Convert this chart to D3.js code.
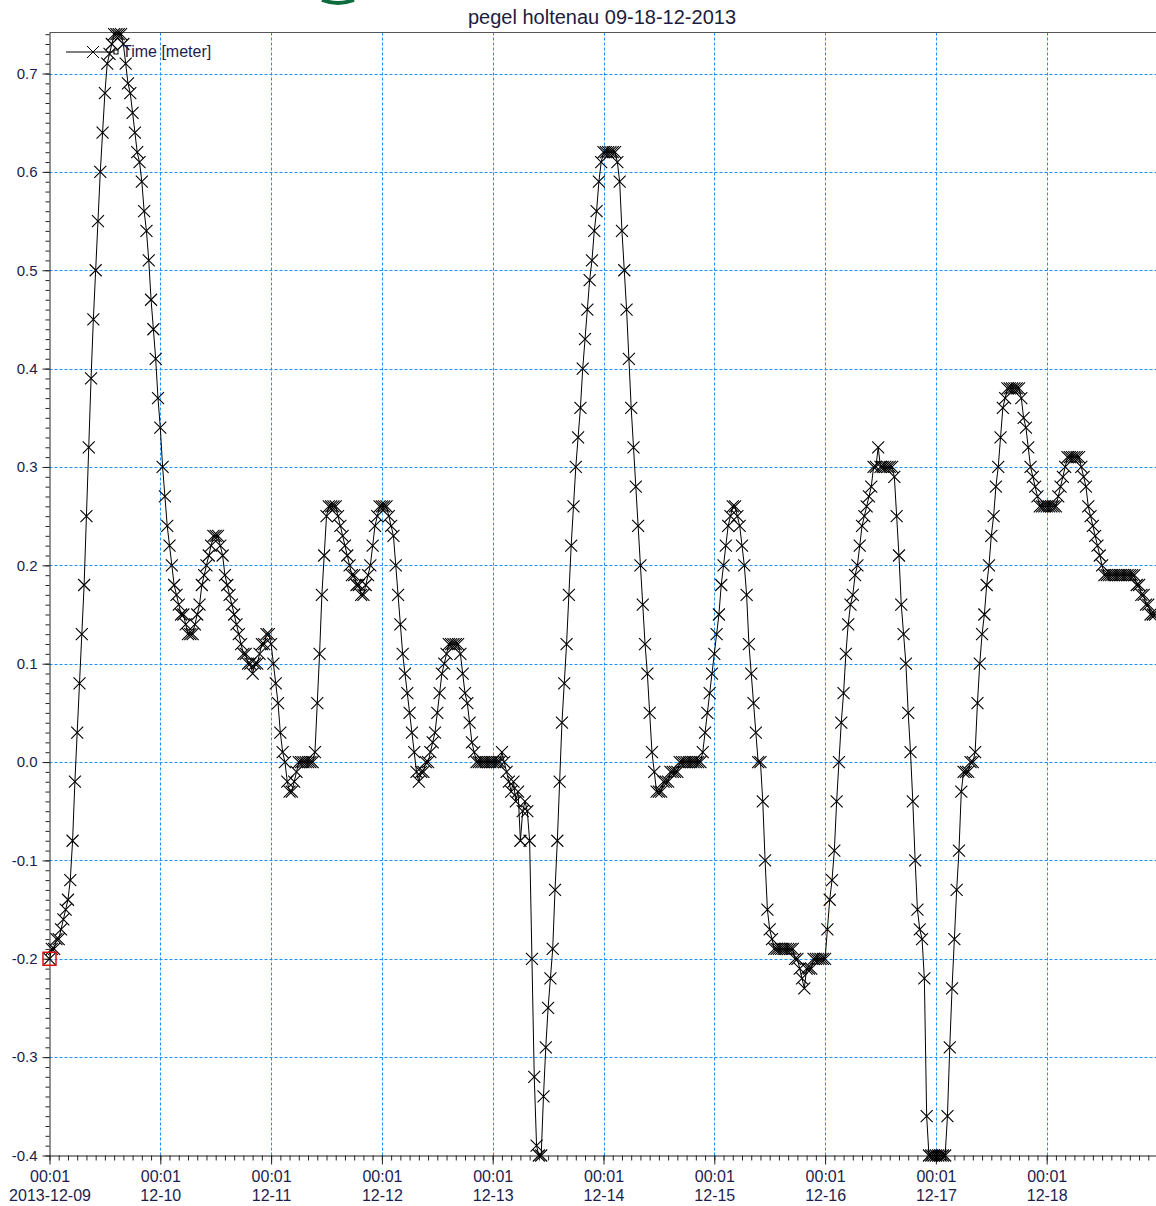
<!DOCTYPE html>
<html>
<head>
<meta charset="utf-8">
<script src="https://cdn.jsdelivr.net/npm/d3@7"></script>
<style>
  body { margin: 0; background: #fff; }
  svg { display: block; font-family: "Liberation Sans", Arial, sans-serif; }
</style>
</head>
<body>
<svg id="chart" width="1156" height="1206"></svg>
<script>
// water level, one value every 30 minutes, starting 2013-12-09 00:01
const startTime = new Date(2013, 11, 9, 0, 1);
const stepMinutes = 30;

const day09 = [-0.20,-0.19,-0.19,-0.18,-0.18,-0.17,-0.16,-0.15,-0.14,-0.12,
  -0.08,-0.02,0.03,0.08,0.13,0.18,0.25,0.32,0.39,0.45,
  0.50,0.55,0.60,0.64,0.68,0.71,0.72,0.73,0.74,0.74,
  0.74,0.74,0.73,0.71,0.69,0.68,0.66,0.64,0.62,0.61,
  0.59,0.56,0.54,0.51,0.47,0.44,0.41,0.37];
const day10 = [0.34,0.30,0.27,0.24,0.22,0.20,0.18,0.17,0.16,0.15,
  0.15,0.14,0.13,0.13,0.13,0.14,0.15,0.16,0.18,0.19,
  0.20,0.21,0.22,0.23,0.23,0.23,0.22,0.21,0.19,0.18,
  0.17,0.16,0.15,0.14,0.13,0.12,0.11,0.11,0.10,0.10,
  0.09,0.10,0.10,0.11,0.12,0.12,0.13,0.13];
const day11 = [0.12,0.10,0.08,0.06,0.03,0.01,0.00,-0.02,-0.03,-0.03,
  -0.02,-0.01,0.00,0.00,0.00,0.00,0.00,0.00,0.00,0.01,
  0.06,0.11,0.17,0.21,0.25,0.26,0.26,0.26,0.26,0.25,
  0.24,0.23,0.22,0.21,0.20,0.19,0.19,0.18,0.18,0.17,
  0.17,0.18,0.19,0.20,0.22,0.24,0.25,0.26];
const day12 = [0.26,0.26,0.26,0.25,0.24,0.23,0.20,0.17,0.14,0.11,
  0.09,0.07,0.05,0.03,0.01,-0.01,-0.02,-0.01,-0.01,0.00,
  0.00,0.01,0.02,0.03,0.05,0.07,0.09,0.10,0.11,0.12,
  0.12,0.12,0.12,0.12,0.11,0.09,0.07,0.06,0.04,0.02,
  0.01,0.00,0.00,0.00,0.00,0.00,0.00,0.00];
const day13 = [0.00,0.00,0.00,0.00,0.01,0.00,-0.01,-0.02,-0.03,-0.02,
  -0.04,-0.03,-0.08,-0.05,-0.04,-0.05,-0.08,-0.20,-0.32,-0.39,
  -0.40,-0.40,-0.34,-0.29,-0.25,-0.22,-0.19,-0.13,-0.08,-0.02,
  0.04,0.08,0.12,0.17,0.22,0.26,0.30,0.33,0.36,0.40,
  0.43,0.46,0.49,0.51,0.54,0.56,0.59,0.61];
const day14 = [0.62,0.62,0.62,0.62,0.62,0.62,0.61,0.59,0.54,0.50,
  0.46,0.41,0.36,0.32,0.28,0.24,0.20,0.16,0.12,0.09,
  0.05,0.01,-0.01,-0.03,-0.03,-0.03,-0.02,-0.02,-0.02,-0.01,
  -0.01,-0.01,-0.01,0.00,0.00,0.00,0.00,0.00,0.00,0.00,
  0.00,0.00,0.00,0.01,0.03,0.05,0.07,0.09];
const day15 = [0.11,0.13,0.15,0.18,0.20,0.22,0.24,0.25,0.26,0.26,
  0.25,0.24,0.22,0.20,0.17,0.12,0.09,0.06,0.03,0.00,
  0.00,-0.04,-0.10,-0.15,-0.17,-0.18,-0.19,-0.19,-0.19,-0.19,
  -0.19,-0.19,-0.19,-0.19,-0.19,-0.20,-0.20,-0.21,-0.22,-0.23,
  -0.21,-0.21,-0.21,-0.20,-0.20,-0.20,-0.20,-0.20];
const day16 = [-0.20,-0.17,-0.14,-0.12,-0.09,-0.04,0.00,0.04,0.07,0.11,
  0.14,0.16,0.17,0.19,0.20,0.22,0.24,0.25,0.26,0.27,
  0.28,0.30,0.30,0.32,0.30,0.30,0.30,0.30,0.30,0.30,
  0.29,0.25,0.21,0.16,0.13,0.10,0.05,0.01,-0.04,-0.10,
  -0.15,-0.17,-0.18,-0.22,-0.36,-0.40,-0.40,-0.40];
const day17 = [-0.40,-0.40,-0.40,-0.40,-0.40,-0.36,-0.29,-0.23,-0.18,-0.13,
  -0.09,-0.03,-0.01,-0.01,-0.01,0.00,0.00,0.01,0.06,0.10,
  0.13,0.15,0.18,0.20,0.23,0.25,0.28,0.30,0.33,0.36,
  0.37,0.38,0.38,0.38,0.38,0.38,0.38,0.37,0.35,0.34,
  0.32,0.30,0.29,0.28,0.27,0.26,0.26,0.26];
const day18 = [0.26,0.26,0.26,0.26,0.26,0.27,0.28,0.29,0.30,0.31,
  0.31,0.31,0.31,0.31,0.31,0.30,0.29,0.28,0.26,0.25,
  0.24,0.23,0.22,0.21,0.20,0.19,0.19,0.19,0.19,0.19,
  0.19,0.19,0.19,0.19,0.19,0.19,0.19,0.19,0.19,0.18,
  0.18,0.17,0.17,0.16,0.16,0.15,0.15,0.15];

const yTicks = [-0.4,-0.3,-0.2,-0.1,0.0,0.1,0.2,0.3,0.4,0.5,0.6,0.7];
const yTickLabels = ["-0.4","-0.3","-0.2","-0.1","0.0","0.1","0.2","0.3","0.4","0.5","0.6","0.7"];
const xTickDates = ["2013-12-09","12-10","12-11","12-12","12-13","12-14","12-15","12-16","12-17","12-18"];
const xTickTime = "00:01";
const chartTitle = "pegel holtenau 09-18-12-2013";
const legendLabel = "Time [meter]";

const values = [].concat(day09, day10, day11, day12, day13, day14, day15, day16, day17, day18);
const points = values.map((v, i) => ({ t: new Date(startTime.getTime() + i * stepMinutes * 60000), v: v }));

const svg = d3.select("#chart");
const plotLeft = 49.5, plotTop = 32.5, plotBottom = 1155.5, plotRight = 1156;
const dayPx = 110.8;

const x = d3.scaleTime()
  .domain([startTime, d3.timeDay.offset(startTime, 10)])
  .range([plotLeft, plotLeft + dayPx * 10]);
const y = d3.scaleLinear()
  .domain([-0.4, 0.7417])
  .range([plotBottom, plotTop]);

const dayTicks = xTickDates.map((d, i) => d3.timeDay.offset(startTime, i));

// grid
const grid = svg.append("g").attr("stroke", "#1e8fff").attr("stroke-dasharray", "3,2").attr("stroke-width", 1);
grid.selectAll("line.h").data(yTicks.filter(v => v > -0.4)).enter().append("line")
  .attr("x1", plotLeft).attr("x2", plotRight)
  .attr("y1", d => Math.round(y(d)) + 0.5).attr("y2", d => Math.round(y(d)) + 0.5);
grid.selectAll("line.v").data(dayTicks.slice(1)).enter().append("line")
  .attr("y1", plotTop).attr("y2", plotBottom)
  .attr("x1", d => Math.round(x(d)) + 0.5).attr("x2", d => Math.round(x(d)) + 0.5);

// top border
svg.append("line").attr("x1", plotLeft).attr("x2", plotRight).attr("y1", plotTop).attr("y2", plotTop)
  .attr("stroke", "#555").attr("stroke-width", 1);

// y axis with minor ticks every 0.01
const yMinor = d3.range(-40, 75).map(k => k / 100);
svg.append("g").attr("transform", `translate(${plotLeft},0)`)
  .call(d3.axisLeft(y).tickValues(yMinor).tickSize(4).tickSizeOuter(0).tickFormat(""))
  .call(g => g.selectAll("line").attr("stroke", "#222"))
  .call(g => g.select(".domain").attr("stroke", "#222"));
svg.append("g").attr("transform", `translate(${plotLeft},0)`)
  .call(d3.axisLeft(y).tickValues(yTicks).tickSize(7).tickSizeOuter(0).tickFormat((d, i) => yTickLabels[i]))
  .call(g => g.select(".domain").remove())
  .call(g => g.selectAll("line").attr("stroke", "#222"))
  .call(g => g.selectAll("text").attr("font-size", 15).attr("fill", "#1c1c50")
    .attr("font-family", "Liberation Sans, Arial, sans-serif").attr("x", -12));

// x axis with minor ticks every 2 hours
const xMinor = d3.range(0, 121).map(k => new Date(startTime.getTime() + k * 2 * 3600000)).filter(d => x(d) <= plotRight);
svg.append("g").attr("transform", `translate(0,${plotBottom})`)
  .call(d3.axisBottom(x).tickValues(xMinor).tickSize(5).tickSizeOuter(0).tickFormat(""))
  .call(g => g.selectAll("line").attr("stroke", "#222"))
  .call(g => g.select(".domain").attr("stroke", "#222").attr("d", `M${plotLeft},0.5H${plotRight}`));
const xAxis = svg.append("g").attr("transform", `translate(0,${plotBottom})`)
  .call(d3.axisBottom(x).tickValues(dayTicks).tickSize(9).tickSizeOuter(0).tickFormat(""))
  .call(g => g.select(".domain").remove())
  .call(g => g.selectAll("line").attr("stroke", "#222"));
xAxis.selectAll(".tick").append("text")
  .attr("text-anchor", "middle").attr("font-size", 16).attr("fill", "#1c1c50")
  .attr("font-family", "Liberation Sans, Arial, sans-serif")
  .each(function(d, i) {
    const t = d3.select(this);
    t.append("tspan").attr("x", 0).attr("y", 26).text(xTickTime);
    t.append("tspan").attr("x", 0).attr("y", 45).text(xTickDates[i]);
  });

// series line and x markers
const line = d3.line().x(d => x(d.t)).y(d => y(d.v));
svg.append("path").datum(points)
  .attr("d", line).attr("fill", "none").attr("stroke", "#000").attr("stroke-width", 1);
const cross = "M-6,-6L6,6M-6,6L6,-6";
svg.append("g").selectAll("path").data(points).enter().append("path")
  .attr("transform", d => `translate(${x(d.t)},${y(d.v)})`)
  .attr("d", cross).attr("fill", "none").attr("stroke", "#000").attr("stroke-width", 1.1);

// red box on first point
svg.append("rect")
  .attr("x", x(points[0].t) - 6.5).attr("y", y(points[0].v) - 6.5)
  .attr("width", 13).attr("height", 13)
  .attr("fill", "none").attr("stroke", "#e01010").attr("stroke-width", 1.5);

// legend
const lg = svg.append("g").attr("transform", "translate(66,52)");
lg.append("line").attr("x1", 0).attr("x2", 50).attr("y1", 0).attr("y2", 0).attr("stroke", "#000");
lg.append("path").attr("transform", "translate(27,0)").attr("d", cross).attr("stroke", "#000").attr("fill", "none");
lg.append("rect").attr("x", 48).attr("y", -2).attr("width", 4).attr("height", 4).attr("fill", "#fff").attr("stroke", "#000");
lg.append("text").attr("x", 56).attr("y", 5).attr("font-size", 16).attr("fill", "#1c1c50").text(legendLabel);

// title and partial logo arc
svg.append("text").attr("x", 602).attr("y", 24).attr("text-anchor", "middle")
  .attr("font-size", 20).attr("fill", "#1c1c40").text(chartTitle);
svg.append("path").attr("d", "M322,0 Q338,6 354,0").attr("fill", "none")
  .attr("stroke", "#0e6b3c").attr("stroke-width", 4);
</script>
</body>
</html>
